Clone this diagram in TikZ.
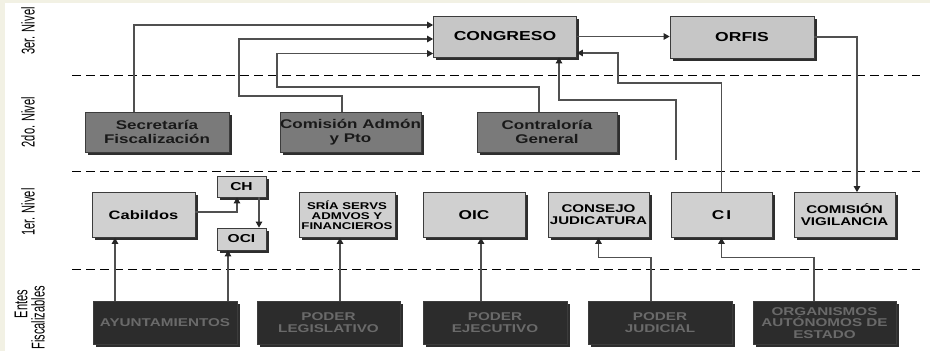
\documentclass[tikz,border=0pt]{standalone}
\usepackage{fontspec}
\setmainfont{Liberation Sans}
\newfontfamily\widefont[FakeStretch=1.35]{Liberation Sans}
\newfontfamily\tallfont[FakeStretch=0.6]{Liberation Sans}
\usetikzlibrary{shadows,arrows.meta}
\definecolor{framecol}{HTML}{F2F1E4}
\definecolor{boxline}{HTML}{3C3C3C}
\definecolor{shadowcol}{HTML}{2E2E2E}
\definecolor{linkcol}{HTML}{505050}
\definecolor{lightfill}{HTML}{C6C6C6}
\definecolor{paleFill}{HTML}{D0D0D0}
\definecolor{midfill}{HTML}{7A7A7A}
\definecolor{darkfill}{HTML}{2C2C2C}
\definecolor{darktext}{HTML}{6A6A6A}
\newcommand\setfs[2]{\fontsize{#1}{#2}\selectfont}
\begin{document}
\begin{tikzpicture}[x=1pt,y=-1pt,
  box/.style={draw=boxline, line width=0.7pt, inner sep=0pt, align=center,
    drop shadow={shadow xshift=2.6pt,shadow yshift=-2.6pt,fill=shadowcol,opacity=1}},
  sz/.style 2 args={minimum width=#1pt, minimum height=#2pt},
  lvlthree/.style={box, fill=lightfill, font=\widefont\bfseries\setfs{13}{14}},
  lvltwo/.style={box, fill=midfill, text=black!90, font=\widefont\bfseries\setfs{12.6}{14}},
  lvlone/.style={box, fill=paleFill, font=\widefont\bfseries\setfs{11.2}{12}},
  lvlzero/.style={box, fill=darkfill, text=darktext, font=\widefont\bfseries\setfs{11.3}{11.8}},
  rowlab/.style={rotate=90, inner sep=0pt, font=\tallfont\setfs{18.5}{16}},
  sep/.style={draw=black, line width=1.3pt, dash pattern=on 9pt off 5pt},
  link/.style={draw=linkcol, line width=1.1pt},
  arr/.style={link, -{Triangle[length=6pt,width=6.5pt,color=black!85]}}
]
\useasboundingbox (0,0) rectangle (930,351);
\fill[framecol] (0,0) rectangle (930,351);
\fill[white] (5,3) rectangle (930,351);

% level separators
\draw[sep] (72,75.5) -- (920,75.5);
\draw[sep] (72,171.5) -- (920,171.5);
\draw[sep] (72,269.5) -- (920,269.5);

% level labels
\node[rowlab] (lthree) at (28,31) {3er. Nivel};
\node[rowlab] (ltwo) at (28,122) {2do. Nivel};
\node[rowlab] (lone) at (28,212) {1er. Nivel};
\node[rowlab] (lzeroa) at (21,304) {Entes};
\node[rowlab] (lzerob) at (38,318) {Fiscalizables};

% 3rd level
\node[lvlthree, sz={143}{41}] (cong) at (505,36.5) {CONGRESO};
\node[lvlthree, sz={144}{42}] (orfis) at (742,37) {ORFIS};

% 2nd level
\node[lvltwo, sz={144}{40}] (sec) at (157,132) {Secretaría\\Fiscalización};
\node[lvltwo, sz={139}{40}] (com) at (350.5,132) {Comisión Admón\\y Pto};
\node[lvltwo, sz={140}{40}] (cont) at (547,132) {Contraloría\\General};

% 1st level
\node[lvlone, sz={103}{45}, font=\widefont\bfseries\setfs{12.2}{13}] (cab) at (143.5,215) {Cabildos};
\node[lvlone, sz={49}{21}, font=\widefont\bfseries\setfs{11.5}{12}] (ch) at (241.5,186.5) {CH};
\node[lvlone, sz={49}{22}, font=\widefont\bfseries\setfs{11.5}{12}] (oci) at (241.5,239) {OCI};
\node[lvlone, sz={96}{45}, font=\widefont\bfseries\setfs{9.8}{10}] (sria) at (347,215) {SRÍA SERVS\\ADMVOS Y\\FINANCIEROS};
\node[lvlone, sz={102}{45}, font=\widefont\bfseries\setfs{12.8}{13}] (oic) at (474,215) {OIC};
\node[lvlone, sz={101}{45}] (cons) at (598.5,215) {CONSEJO\\JUDICATURA};
\node[lvlone, sz={101}{45}, font=\widefont\bfseries\setfs{12.8}{13}] (ci) at (721.5,215) {C\hspace{2pt}I};
\node[lvlone, sz={101}{45}] (vig) at (844.5,215) {COMISIÓN\\VIGILANCIA};

% audited entities
\node[lvlzero, sz={144}{43}] (ayu) at (165,323) {AYUNTAMIENTOS};
\node[lvlzero, sz={143}{43}] (leg) at (328.5,323) {PODER\\LEGISLATIVO};
\node[lvlzero, sz={144}{43}] (eje) at (495,323) {PODER\\EJECUTIVO};
\node[lvlzero, sz={144}{43}] (jud) at (660,323) {PODER\\JUDICIAL};
\node[lvlzero, sz={143}{43}] (org) at (824.5,323) {ORGANISMOS\\AUTÓNOMOS DE\\ESTADO};

% connectors into CONGRESO
\draw[arr] ([xshift=-23pt]sec.north) |- ([yshift=11.5pt]cong.west);
\draw[arr] ([xshift=-8.5pt]com.north) |- (239,96) |- ([yshift=-2.5pt]cong.west);
\draw[arr] ([xshift=-8pt]cont.north) |- (277,87) |- ([yshift=-17pt]cong.west);
\coordinate (freeend) at (676,160);
\coordinate (congbend) at (559,100);
\draw[arr] (freeend) |- (congbend) -- (congbend |- cong.south);
\draw[arr] (ci.north) |- (618,83) |- ([yshift=-16.5pt]cong.east);

% third level outputs
\draw[arr] (cong.east) -- (cong.east -| orfis.west);
\draw[arr] (orfis.east) -| ([xshift=12.5pt]vig.north);

% first level internal links
\draw[arr] ([yshift=3pt]cab.east) -| ([xshift=-4.5pt]ch.south);
\draw[arr] ([xshift=17.5pt]ch.south) -- ([xshift=17.5pt]oci.north);

% entities to first level
\draw[arr] ([xshift=-50pt]ayu.north) -- ([xshift=-50pt]ayu.north |- cab.south);
\draw[arr] ([xshift=63pt]ayu.north) -- ([xshift=63pt]ayu.north |- oci.south);
\draw[arr] ([xshift=11.5pt]leg.north) -- ([xshift=11.5pt]leg.north |- sria.south);
\draw[arr] ([xshift=-14pt]eje.north) -- ([xshift=-14pt]eje.north |- oic.south);
\draw[arr] ([xshift=-9pt]jud.north) -- ++(0,-44) -| (cons.south);
\draw[arr] ([xshift=-10.5pt]org.north) -- ++(0,-44) -| (ci.south);
\end{tikzpicture}
\end{document}
